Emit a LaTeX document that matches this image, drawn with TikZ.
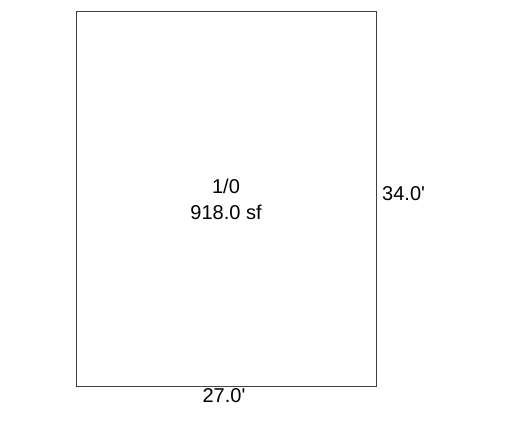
\documentclass[tikz,border=0pt]{standalone}
\usepackage{fontspec}
\setmainfont{Liberation Sans}
\begin{document}
\begin{tikzpicture}[x=1pt,y=1pt,
  lbl/.style={font=\fontsize{20}{26}\selectfont, inner sep=0pt},
  room/.style={draw=black!75, line width=0.8pt}]
\useasboundingbox (0,0) rectangle (512,426);
\node[room, minimum width=300pt, minimum height=375pt, inner sep=0pt] (r) at (226,227.5) {};
\node[lbl, align=center] (t) at (226,227) {1/0\\918.0 sf};
\node[lbl, anchor=west] (h) at (382,232.5) {34.0\textquotesingle};
\node[lbl] (w) at (224,30.5) {27.0\textquotesingle};
\end{tikzpicture}
\end{document}
